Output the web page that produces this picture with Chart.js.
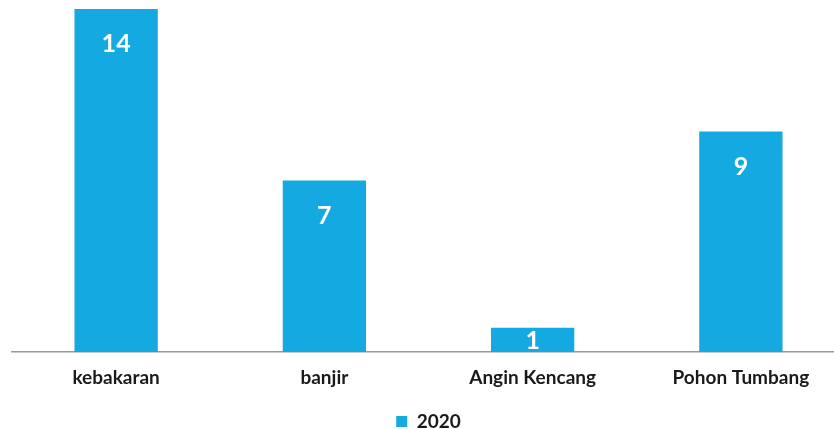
<!DOCTYPE html>
<html>
<head>
<meta charset="utf-8">
<script src="https://cdn.jsdelivr.net/npm/chart.js@4/dist/chart.umd.min.js"></script>
<style>
  html, body { margin: 0; padding: 0; background: #fff; overflow: hidden; }
  #wrap { width: 865px; height: 429px; }
</style>
</head>
<body>
<div id="wrap"><canvas id="chart" width="865" height="429"></canvas></div>
<script>
const categories = ['kebakaran', 'banjir', 'Angin Kencang', 'Pohon Tumbang'];
const seriesName = '2020';
const values2020 = [14, 7, 1, 9];

const BAR_COLOR = '#15a9e1';
const FONT = 'Lato, "Open Sans", sans-serif';

// white value labels inside the top of each bar
const insideLabels = {
  id: 'insideLabels',
  afterDatasetsDraw(chart) {
    const { ctx } = chart;
    ctx.save();
    ctx.font = `bold 25px ${FONT}`;
    ctx.fillStyle = '#fff';
    ctx.textAlign = 'center';
    ctx.textBaseline = 'middle';
    chart.getDatasetMeta(0).data.forEach((bar, i) => {
      const y = Math.min(bar.y + 34, (bar.y + bar.base) / 2);
      ctx.fillText(String(values2020[i]), bar.x, y + 1);
    });
    ctx.restore();
  },
};

new Chart(document.getElementById('chart'), {
  type: 'bar',
  data: {
    labels: categories,
    datasets: [
      {
        label: seriesName,
        data: values2020,
        backgroundColor: BAR_COLOR,
        barPercentage: 0.4,
        categoryPercentage: 1,
      },
    ],
  },
  options: {
    responsive: false,
    animation: false,
    layout: { padding: { left: 12, right: 20, top: 9, bottom: -12 } },
    scales: {
      x: {
        grid: { display: false },
        border: { color: '#9a9a9a', width: 1.5 },
        ticks: {
          color: '#1a1a1a',
          padding: 6,
          font: { family: FONT, size: 19, weight: 'bold' },
        },
        // extra room between the category labels and the legend
        afterFit: (scale) => {
          scale.height += 11;
        },
      },
      y: { display: false, min: 0, max: 14 },
    },
    plugins: {
      tooltip: { enabled: false },
      legend: {
        position: 'bottom',
        labels: {
          color: '#1a1a1a',
          boxWidth: 11,
          boxHeight: 11,
          padding: 6,
          font: { family: FONT, size: 19, weight: 'bold' },
        },
      },
    },
  },
  plugins: [insideLabels],
});
</script>
</body>
</html>
